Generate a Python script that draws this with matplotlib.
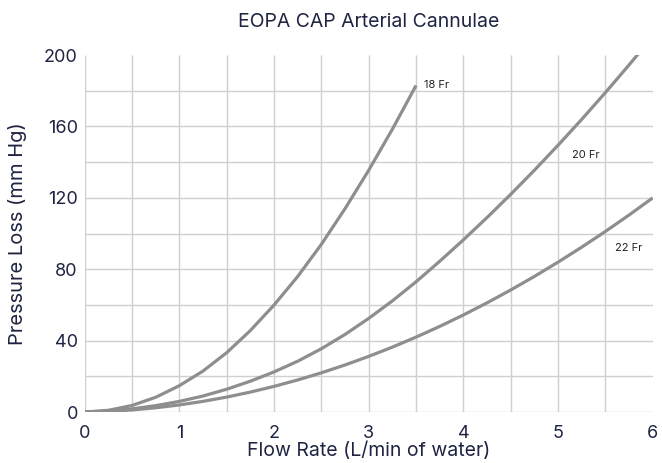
import numpy as np
import matplotlib
matplotlib.use("Agg")
import matplotlib.pyplot as plt

plt.rcParams["font.family"] = ["Inter", "DejaVu Sans"]

TXT = "#1f2442"
LINE = "#8e8e8e"
GRID = "#cfcfcf"

# values (L/min, mm Hg)
flow_18 = [0, 0.25, 0.5, 0.75, 1.0, 1.25, 1.5, 1.75, 2.0, 2.25, 2.5, 2.75, 3.0, 3.25, 3.5]
dp_18 = [0, 1, 3.7, 8.3, 14.8, 23, 33.3, 45.7, 60, 76, 94, 114, 135.5, 158.5, 183]
flow_20 = [0, 0.25, 0.5, 0.75, 1.0, 1.25, 1.5, 1.75, 2.0, 2.25, 2.5, 2.75, 3.0,
           3.25, 3.5, 3.75, 4.0, 4.25, 4.5, 4.75, 5.0, 5.25, 5.5, 5.75, 5.9]
dp_20 = [0, 0.6, 1.8, 3.6, 6.0, 9.0, 12.8, 17.3, 22.5, 28.5, 35.5, 43.5, 52.5,
         62.3, 73, 84.5, 96.5, 109, 122, 135.5, 149.5, 164, 179, 194.5, 204]
flow_22 = [0, 0.25, 0.5, 0.75, 1.0, 1.25, 1.5, 1.75, 2.0, 2.25, 2.5, 2.75, 3.0,
           3.25, 3.5, 3.75, 4.0, 4.25, 4.5, 4.75, 5.0, 5.25, 5.5, 5.75, 6.0]
dp_22 = [0, 0.4, 1.2, 2.4, 4, 6, 8.4, 11.2, 14.4, 18, 22, 26.4, 31.2,
         36.4, 42, 48, 54.4, 61.2, 68.4, 76, 84, 92.4, 101.2, 110.4, 120]
curve_labels = ["18 Fr", "20 Fr", "22 Fr"]
label_pos = [(3.58, 183), (5.15, 144), (5.6, 92)]

fig = plt.figure(figsize=(6.62, 4.63), dpi=100)
ax = fig.add_axes([0.128, 0.110, 0.858, 0.771])

ax.hlines(np.arange(0, 200, 20), 0, 6, color=GRID, lw=1, zorder=1)
ax.vlines(np.arange(0, 6, 0.5), 0, 200, color=GRID, lw=1, zorder=1)

for x, y in [(flow_18, dp_18), (flow_20, dp_20), (flow_22, dp_22)]:
    ax.plot(x, y, color=LINE, lw=2.3, zorder=3, solid_capstyle="butt",
            solid_joinstyle="round")
for lab, (lx, ly) in zip(curve_labels, label_pos):
    ax.text(lx, ly, lab, fontsize=8, color="#222222", va="center", ha="left")

ax.set_xlim(0, 6)
ax.set_ylim(0, 200)
ax.set_xticks(range(0, 7))
ax.set_yticks(range(0, 201, 40))
ax.tick_params(length=0, labelsize=13, labelcolor=TXT)
ax.tick_params(axis="x", pad=9)
ax.tick_params(axis="y", pad=5)
for s in ax.spines.values():
    s.set_visible(False)
ax.set_xlabel("Flow Rate (L/min of water)", fontsize=14, color=TXT, labelpad=0)
ax.set_ylabel("Pressure Loss (mm Hg)", fontsize=14.5, color=TXT, labelpad=12)
ax.set_title("EOPA CAP Arterial Cannulae", fontsize=14, color=TXT, pad=20)

fig.savefig("out.png", dpi=100)
